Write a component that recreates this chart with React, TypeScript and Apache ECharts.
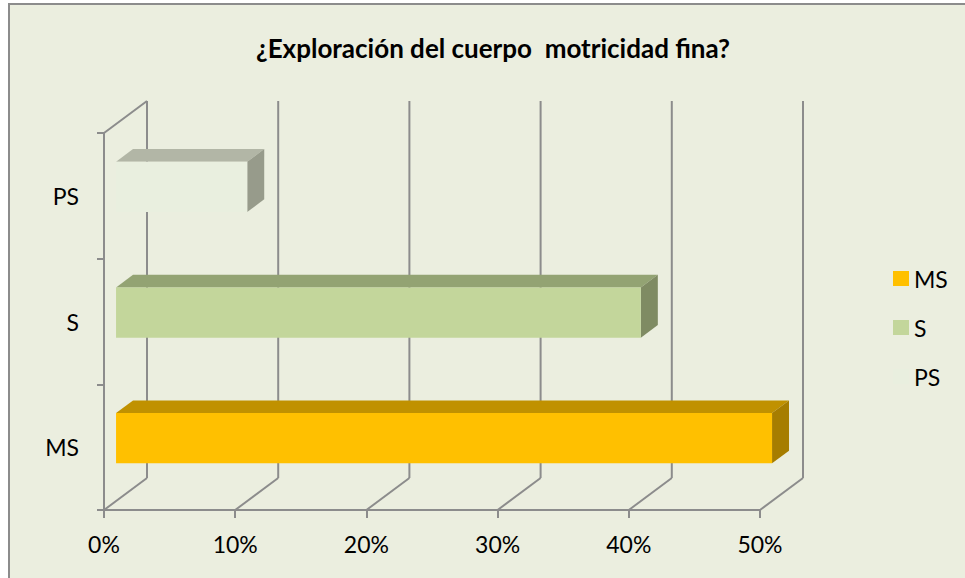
import React, { useEffect, useRef } from "react";
import * as echarts from "echarts";

const categories = ["MS", "S", "PS"];
const values = [0.5, 0.4, 0.1];
const tickValues = [0, 0.1, 0.2, 0.3, 0.4, 0.5];
const titleText = "¿Exploración del cuerpo  motricidad fina?";

const FRONT_COLORS = ["#FFC000", "#C3D69B", "#E9EFDF"];
const TOP_COLORS = ["#C09100", "#93A373", "#B2B6A6"];
const SIDE_COLORS = ["#A67D00", "#7F8B63", "#979B8B"];

const BG = "#EBEEDF";
const LINE = "#8C8C8C";
const FONT = "Lato, 'Open Sans', sans-serif";
const DX = 43;
const DY = -32;
const F_FRONT = 0.28;
const F_BACK = 0.675;

export default function App() {
  const ref = useRef<HTMLDivElement>(null);
  useEffect(() => {
    if (!ref.current) return;
    const chart = echarts.init(ref.current, undefined, { renderer: "svg" });

    const frameSeries: any = {
      type: "custom",
      name: "frame",
      silent: true,
      z: 1,
      data: tickValues.map((v) => [v, 0]),
      encode: { x: 0, y: 1 },
      renderItem: (params: any, api: any) => {
        const cs = params.coordSys;
        const v = api.value(0);
        const x = api.coord([v, 0])[0];
        const top = cs.y;
        const bottom = cs.y + cs.height;
        const style = { stroke: LINE, lineWidth: 2, fill: "none" };
        const children: any[] = [
          { type: "line", shape: { x1: x + DX, y1: top + DY, x2: x + DX, y2: bottom + DY }, style },
          { type: "line", shape: { x1: x, y1: bottom, x2: x + DX, y2: bottom + DY }, style },
        ];
        if (params.dataIndex === 0) {
          children.push({ type: "line", shape: { x1: cs.x, y1: top, x2: cs.x + DX, y2: top + DY }, style });
        }
        return { type: "group", children };
      },
    };

    const barSeries = categories.map((name, i) => ({
      type: "custom",
      name,
      z: 3,
      itemStyle: { color: FRONT_COLORS[i] },
      data: [[values[i], i]],
      encode: { x: 0, y: 1 },
      renderItem: (params: any, api: any) => {
        const v = api.value(0);
        const c = api.value(1);
        const p0 = api.coord([0, c]);
        const p1 = api.coord([v, c]);
        const band = api.size([0, 1])[1];
        const h = band * 0.4;
        const fx = DX * F_FRONT, fy = DY * F_FRONT;
        const bx = DX * F_BACK, by = DY * F_BACK;
        const x0 = p0[0] + fx, x1 = p1[0] + fx;
        const yT = p0[1] + fy - h / 2, yB = p0[1] + fy + h / 2;
        const x0b = p0[0] + bx, x1b = p1[0] + bx;
        const yTb = p0[1] + by - h / 2, yBb = p0[1] + by + h / 2;
        return {
          type: "group",
          children: [
            { type: "polygon", shape: { points: [[x0, yT], [x1, yT], [x1b, yTb], [x0b, yTb]] }, style: { fill: TOP_COLORS[i] } },
            { type: "polygon", shape: { points: [[x1, yT], [x1b, yTb], [x1b, yBb], [x1, yB]] }, style: { fill: SIDE_COLORS[i] } },
            { type: "rect", shape: { x: x0, y: yT, width: x1 - x0, height: yB - yT }, style: { fill: FRONT_COLORS[i] } },
          ],
        };
      },
    }));

    chart.setOption({
      animation: false,
      backgroundColor: "transparent",
      graphic: [
        {
          type: "rect",
          z: -10,
          silent: true,
          shape: { x: 9, y: 4, width: 980, height: 600 },
          style: { fill: BG, stroke: LINE, lineWidth: 2 },
        },
      ],
      title: {
        text: titleText,
        left: 488,
        textAlign: "center",
        top: 30,
        textStyle: { fontFamily: FONT, fontWeight: "bold", fontSize: 26, color: "#000" },
      },
      legend: {
        data: categories,
        orient: "vertical",
        left: 888,
        top: 262,
        icon: "rect",
        itemWidth: 16,
        itemHeight: 15,
        itemGap: 26,
        textStyle: { fontFamily: FONT, fontSize: 23, color: "#000", lineHeight: 23 },
      },
      grid: { left: 104, right: 205, top: 133, bottom: 68, containLabel: false },
      xAxis: {
        type: "value",
        min: 0,
        max: 0.5,
        interval: 0.1,
        axisLine: { show: true, lineStyle: { color: LINE, width: 2 } },
        axisTick: { show: true, length: 8, lineStyle: { color: LINE, width: 2 } },
        splitLine: { show: false },
        axisLabel: {
          margin: 22,
          fontFamily: FONT,
          fontSize: 23,
          color: "#000",
          formatter: (v: number) => Math.round(v * 100) + "%",
        },
      },
      yAxis: {
        type: "category",
        data: categories,
        axisLine: { show: true, lineStyle: { color: LINE, width: 2 } },
        axisTick: { show: true, length: 7, lineStyle: { color: LINE, width: 2 } },
        splitLine: { show: false },
        axisLabel: { margin: 25, fontFamily: FONT, fontSize: 23, color: "#000" },
      },
      series: [frameSeries, ...barSeries],
    });
    return () => chart.dispose();
  }, []);
  return (
    <div
      ref={ref}
      style={{ position: "fixed", left: 0, top: 0, width: 965, height: 578, background: "#fff" }}
    />
  );
}
